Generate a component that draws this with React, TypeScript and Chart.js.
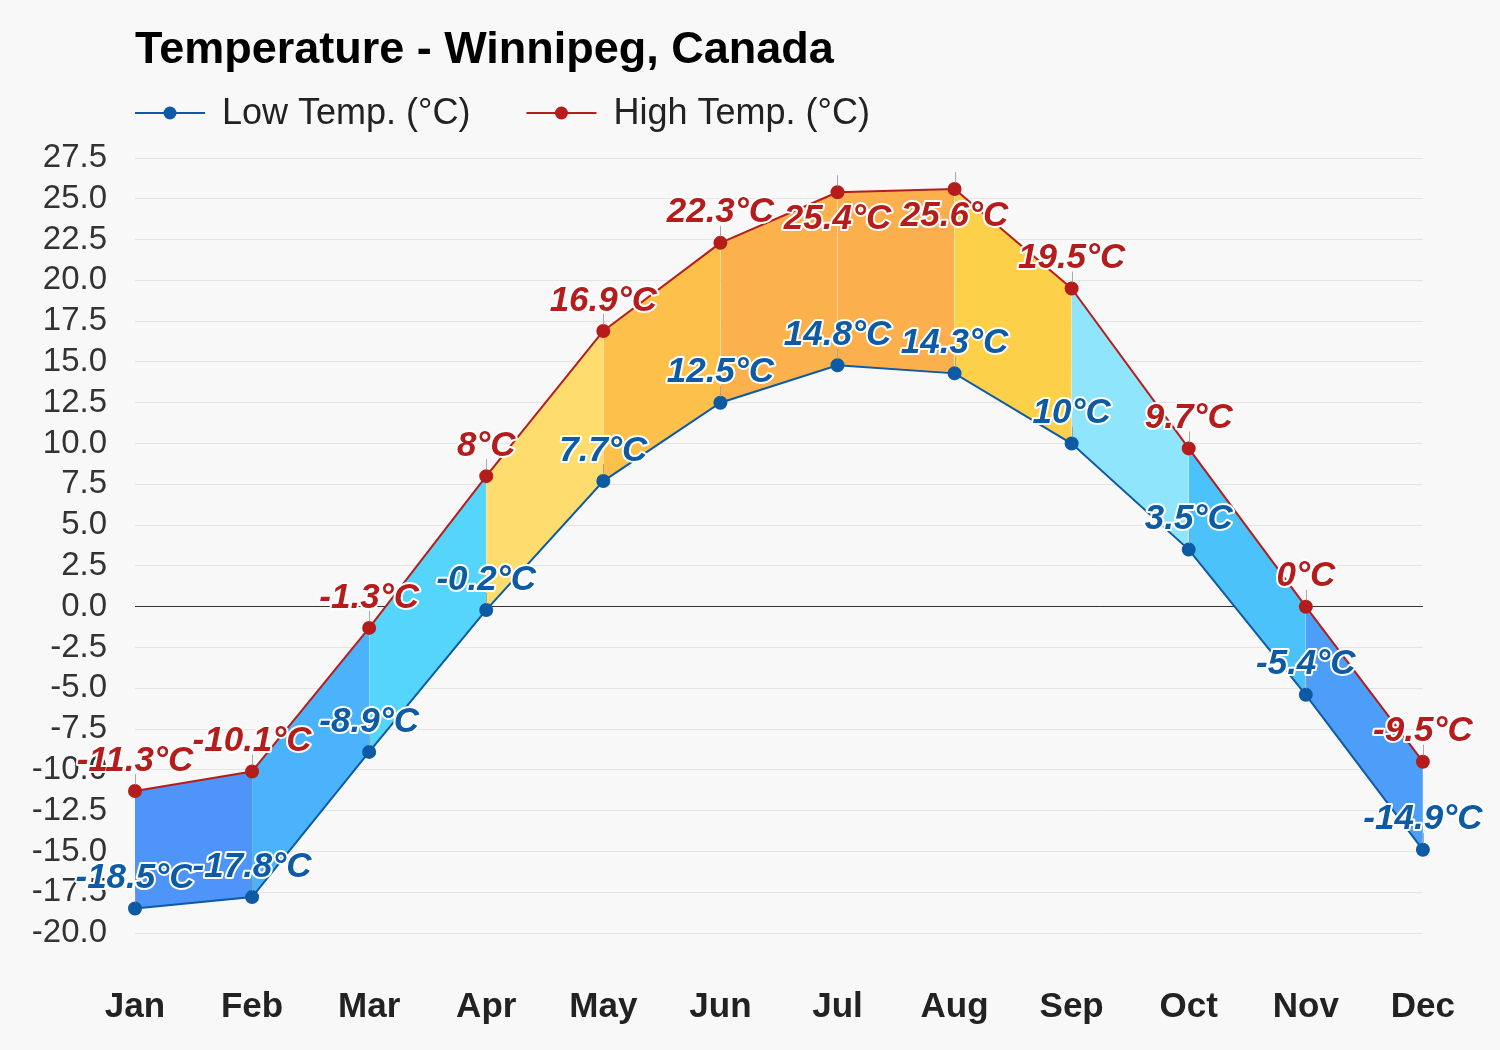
import React, { useEffect, useRef } from 'react';
import { Chart, registerables } from 'chart.js';

Chart.register(...registerables);

const titleText = 'Temperature - Winnipeg, Canada';
const months = ['Jan', 'Feb', 'Mar', 'Apr', 'May', 'Jun', 'Jul', 'Aug', 'Sep', 'Oct', 'Nov', 'Dec'];
const lowTemps = [-18.5, -17.8, -8.9, -0.2, 7.7, 12.5, 14.8, 14.3, 10, 3.5, -5.4, -14.9];
const highTemps = [-11.3, -10.1, -1.3, 8, 16.9, 22.3, 25.4, 25.6, 19.5, 9.7, 0, -9.5];
const seriesNames = ['Low Temp. (°C)', 'High Temp. (°C)'];
const yMin = -20;
const yMax = 27.5;
const yStep = 2.5;

const segmentColors = [
  '#4f94f9', '#4ab3fb', '#55d5fb', '#fedc6e', '#fdc14b', '#fbb24c',
  '#fbaf4d', '#fdd04a', '#8ee5fc', '#4bc2fa', '#4d9ef8',
];

const FONT = '"Liberation Sans", Arial, Helvetica, sans-serif';
const LOW_COLOR = '#0d5aa5';
const HIGH_COLOR = '#b51c1c';
const BG = '#f8f8f8';

const fmt = (v: number) => `${v}°C`;

const legendPlugin = {
  id: 'customLegend',
  afterDraw(chart: any) {
    const ctx = chart.ctx;
    const y = 113;
    let x = 135;
    ctx.save();
    ctx.font = `36px ${FONT}`;
    ctx.textBaseline = 'middle';
    chart.data.datasets.forEach((ds: any) => {
      ctx.strokeStyle = ds.borderColor;
      ctx.lineWidth = 2;
      ctx.beginPath();
      ctx.moveTo(x, y);
      ctx.lineTo(x + 70, y);
      ctx.stroke();
      ctx.fillStyle = ds.borderColor;
      ctx.beginPath();
      ctx.arc(x + 35, y, 6.5, 0, Math.PI * 2);
      ctx.fill();
      ctx.fillStyle = '#222';
      ctx.textAlign = 'left';
      ctx.fillText(ds.label, x + 87, y + 1);
      x = x + 87 + ctx.measureText(ds.label).width + 56;
    });
    ctx.restore();
  },
};

const labelPlugin = {
  id: 'valueLabels',
  afterDatasetsDraw(chart: any) {
    const ctx = chart.ctx;
    const top = chart.chartArea.top;
    ctx.save();
    chart.data.datasets.forEach((_ds: any, di: number) => {
      const meta = chart.getDatasetMeta(di);
      meta.data.forEach((pt: any) => {
        ctx.strokeStyle = 'rgba(150,150,150,0.8)';
        ctx.lineWidth = 1;
        ctx.beginPath();
        ctx.moveTo(Math.round(pt.x) + 0.5, pt.y - 17);
        ctx.lineTo(Math.round(pt.x) + 0.5, pt.y - 6);
        ctx.stroke();
      });
    });
    ctx.font = `italic bold 35px ${FONT}`;
    ctx.textAlign = 'center';
    ctx.textBaseline = 'middle';
    ctx.lineJoin = 'round';
    const order = [1, 0];
    order.forEach((di) => {
      const ds = chart.data.datasets[di];
      const meta = chart.getDatasetMeta(di);
      meta.data.forEach((pt: any, i: number) => {
        const text = fmt(ds.data[i]);
        const tx = pt.x;
        let ty = pt.y - 30;
        if (ty - 16 < top) ty = pt.y + 27;
        ctx.strokeStyle = '#ffffff';
        ctx.lineWidth = 4;
        ctx.strokeText(text, tx, ty);
        ctx.fillStyle = ds.borderColor;
        ctx.fillText(text, tx, ty);
      });
    });
    ctx.restore();
  },
};

const bgPlugin = {
  id: 'bg',
  beforeDraw(chart: any) {
    const ctx = chart.ctx;
    ctx.save();
    ctx.fillStyle = BG;
    ctx.fillRect(0, 0, chart.width, chart.height);
    ctx.restore();
  },
};

export default function App() {
  const ref = useRef<HTMLCanvasElement | null>(null);

  useEffect(() => {
    document.body.style.margin = '0';
    document.body.style.background = BG;
    if (!ref.current) return;
    const chart = new Chart(ref.current, {
      type: 'line',
      data: {
        labels: months,
        datasets: [
          {
            label: seriesNames[0],
            data: lowTemps,
            borderColor: LOW_COLOR,
            backgroundColor: LOW_COLOR,
            pointBackgroundColor: LOW_COLOR,
            pointBorderColor: LOW_COLOR,
            pointRadius: 6,
            borderWidth: 2,
            fill: false,
            tension: 0,
          },
          {
            label: seriesNames[1],
            data: highTemps,
            borderColor: HIGH_COLOR,
            backgroundColor: segmentColors[0],
            pointBackgroundColor: HIGH_COLOR,
            pointBorderColor: HIGH_COLOR,
            pointRadius: 6,
            borderWidth: 2,
            fill: '-1',
            tension: 0,
            segment: {
              backgroundColor: (c: any) => segmentColors[c.p0DataIndex],
            },
          },
        ],
      },
      options: {
        responsive: false,
        animation: false,
        layout: { padding: { left: 0, right: 69, top: 0, bottom: 0 } },
        plugins: {
          legend: { display: false },
          tooltip: { enabled: false },
          title: {
            display: true,
            text: titleText,
            align: 'start',
            fullSize: false,
            color: '#000',
            font: { family: FONT, size: 45, weight: 'bold', lineHeight: 1.2 },
            padding: { top: 24, bottom: 80 },
          },
        },
        scales: {
          x: {
            type: 'category',
            offset: false,
            grid: { display: false },
            border: { display: false },
            ticks: {
              color: '#222',
              padding: 45,
              font: { family: FONT, size: 35, weight: 'bold' },
              maxRotation: 0,
              autoSkip: false,
            },
            afterFit: (s: any) => {
              s.height = 117;
            },
          },
          y: {
            min: yMin,
            max: yMax,
            grid: {
              drawTicks: false,
              color: (c: any) => (c.tick && c.tick.value === 0 ? '#333333' : '#e4e4e4'),
              lineWidth: 1,
            },
            border: { display: false },
            ticks: {
              stepSize: yStep,
              autoSkip: false,
              padding: 28,
              color: '#333',
              font: { family: FONT, size: 33 },
              callback: (v: any) => Number(v).toFixed(1),
            },
            afterFit: (s: any) => {
              s.width = 135;
            },
          },
        },
      },
      plugins: [bgPlugin, labelPlugin, legendPlugin],
    });
    return () => chart.destroy();
  }, []);

  return (
    <div style={{ width: 1500, height: 1050, background: BG }}>
      <canvas ref={ref} width={1500} height={1050} />
    </div>
  );
}
